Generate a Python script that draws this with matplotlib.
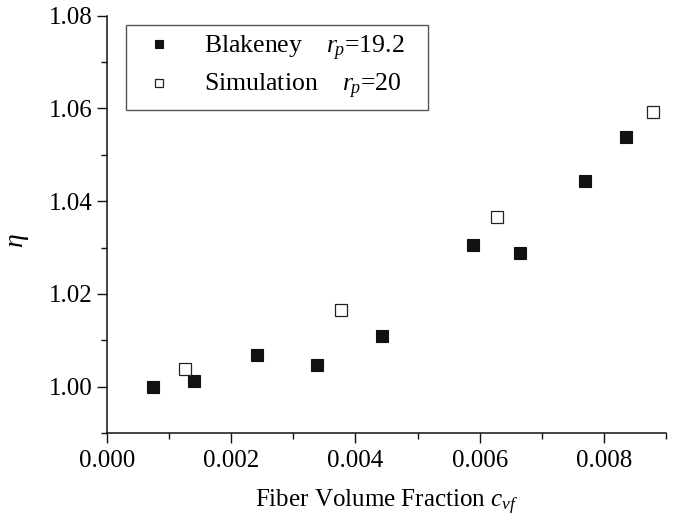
import matplotlib
matplotlib.use("Agg")
import matplotlib.pyplot as plt
from matplotlib.ticker import MultipleLocator

plt.rcParams['font.family'] = ['Liberation Serif', 'DejaVu Serif']
plt.rcParams['mathtext.fontset'] = 'custom'
plt.rcParams['mathtext.rm'] = 'Liberation Serif'
plt.rcParams['mathtext.it'] = 'Liberation Serif:italic'

# Blakeney data (r_p = 19.2)
blak_x = [0.000744, 0.001404, 0.002423, 0.003387, 0.004432, 0.005884, 0.006651, 0.007696, 0.008344]
blak_y = [1.0000, 1.0011, 1.0069, 1.0046, 1.0110, 1.0305, 1.0289, 1.0443, 1.0539]

# Simulation data (r_p = 20)
sim_x = [0.001254, 0.003762, 0.006281, 0.008789]
sim_y = [1.0038, 1.0166, 1.0366, 1.0592]

fig = plt.figure(figsize=(6.8, 5.26), dpi=100)
ax = fig.add_axes([0.157, 0.177, 0.823, 0.793])

ax.plot(blak_x, blak_y, 's', color='#111111', markersize=8.6, mec='#111111', mew=0.8,
        label='Blakeney    $r_{\\!p}$=19.2   ')
ax.plot(sim_x, sim_y, 's', color='white', markersize=8.6, mec='#222222', mew=0.9,
        label='Simulation    $r_{\\!p}$=20')

ax.set_xlim(0, 0.009)
ax.set_ylim(0.99, 1.08)
ax.xaxis.set_major_locator(MultipleLocator(0.002))
ax.xaxis.set_minor_locator(MultipleLocator(0.001))
ax.yaxis.set_major_locator(MultipleLocator(0.02))
ax.yaxis.set_minor_locator(MultipleLocator(0.01))
ax.xaxis.set_major_formatter(plt.FormatStrFormatter('%.3f'))
ax.yaxis.set_major_formatter(plt.FormatStrFormatter('%.2f'))

ax.spines['top'].set_visible(False)
ax.spines['right'].set_visible(False)
for s in ['left', 'bottom']:
    ax.spines[s].set_linewidth(1.1)
    ax.spines[s].set_color('#111111')

ax.tick_params(which='major', direction='out', length=7, width=1.0, labelsize=18, color='#111111')
ax.tick_params(which='minor', direction='out', length=4, width=1.0, color='#111111')
ax.tick_params(axis='x', which='major', pad=5)

ax.set_xlabel('Fiber Volume Fraction $c_{vf}$', fontsize=18, labelpad=12)
ax.set_ylabel(r'$\eta$', fontsize=20)
ax.yaxis.set_label_coords(-0.135, 0.46)

leg = ax.legend(loc='upper left', bbox_to_anchor=(0.034, 0.978), borderaxespad=0,
                fontsize=18.5, markerscale=0.75, handletextpad=0.8, borderpad=0.35,
                labelspacing=0.35, fancybox=False, framealpha=1, handlelength=1.9)
leg.get_frame().set_edgecolor('#555555')
leg.get_frame().set_linewidth(1.0)

fig.savefig('out.png', dpi=100)
